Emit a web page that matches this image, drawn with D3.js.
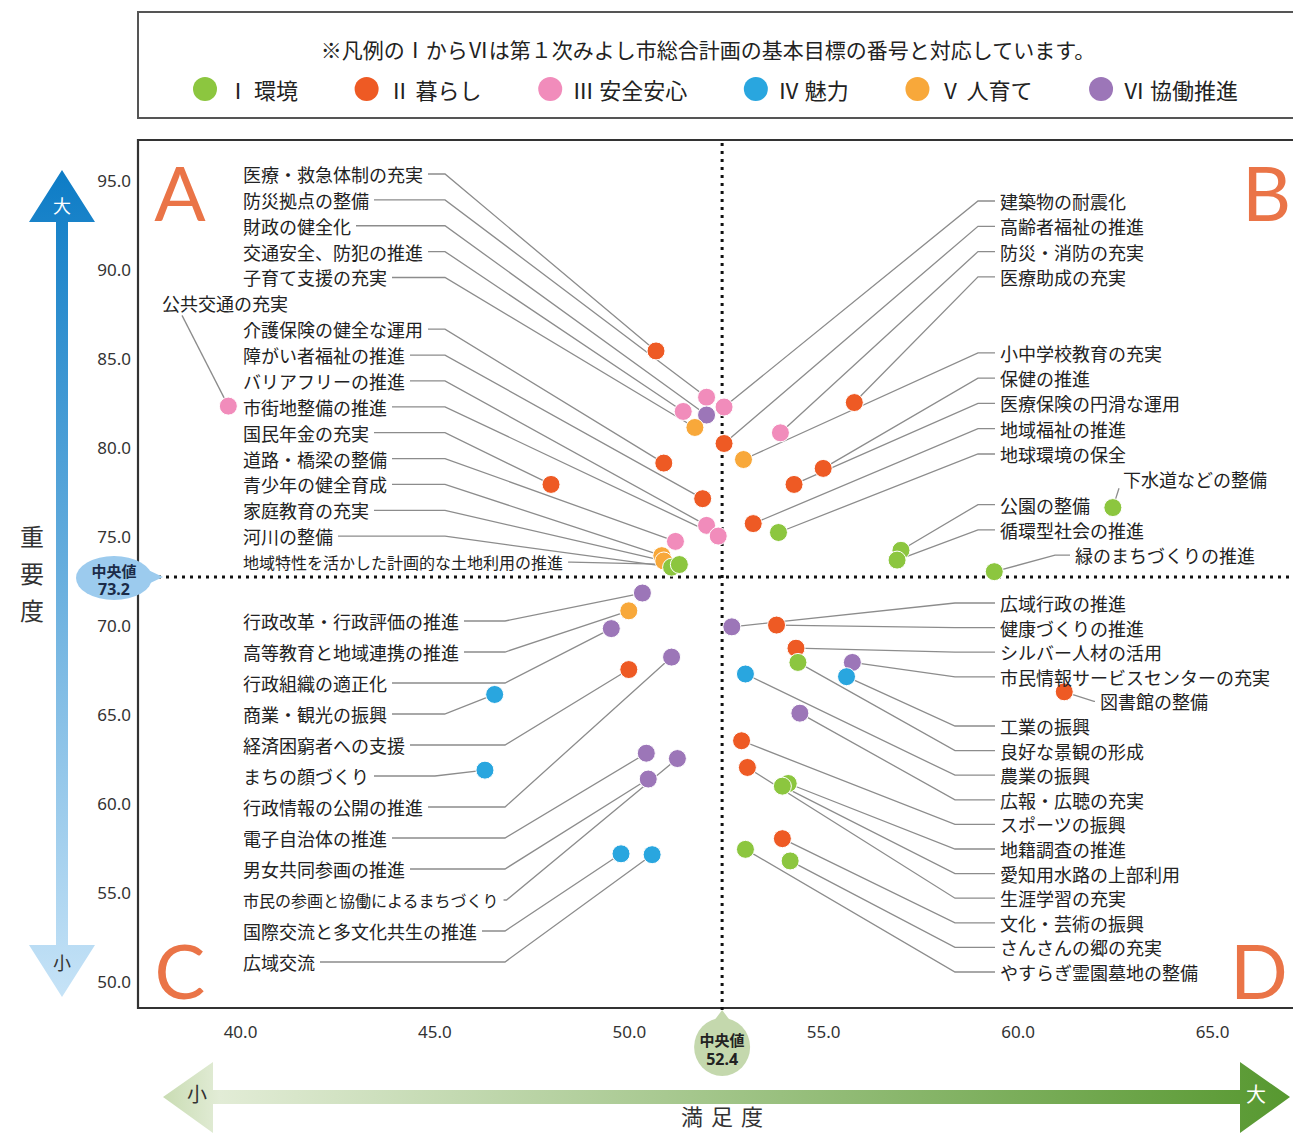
<!DOCTYPE html>
<html><head><meta charset="utf-8">
<script src="https://cdn.jsdelivr.net/npm/d3@7"></script>
<style>
body{margin:0;background:#fff;}
svg{display:block;font-family:"Noto Sans CJK JP","Noto Sans",sans-serif;}
</style></head><body>
<svg id="chart" width="1293" height="1133"></svg>
<script>
// ---------------- DATA ----------------
const legendNote = "※凡例のⅠからⅥは第１次みよし市総合計画の基本目標の番号と対応しています。";
const groupNames = ["Ⅰ 環境","Ⅱ 暮らし","Ⅲ 安全安心","Ⅳ 魅力","Ⅴ 人育て","Ⅵ 協働推進"];
const groupColors = ["#8cc63f","#ee5a24","#f18cbb","#29a6df","#f8a83a","#9c76b8"];

const itemNames = [
 // A
 "医療・救急体制の充実","防災拠点の整備","財政の健全化","交通安全、防犯の推進","子育て支援の充実","公共交通の充実",
 "介護保険の健全な運用","障がい者福祉の推進","バリアフリーの推進","市街地整備の推進","国民年金の充実","道路・橋梁の整備",
 "青少年の健全育成","家庭教育の充実","河川の整備","地域特性を活かした計画的な土地利用の推進",
 // B
 "建築物の耐震化","高齢者福祉の推進","防災・消防の充実","医療助成の充実","小中学校教育の充実","保健の推進",
 "医療保険の円滑な運用","地域福祉の推進","地球環境の保全","下水道などの整備","公園の整備","循環型社会の推進","緑のまちづくりの推進",
 // C
 "行政改革・行政評価の推進","高等教育と地域連携の推進","行政組織の適正化","商業・観光の振興","経済困窮者への支援","まちの顔づくり",
 "行政情報の公開の推進","電子自治体の推進","男女共同参画の推進","市民の参画と協働によるまちづくり","国際交流と多文化共生の推進","広域交流",
 // D
 "広域行政の推進","健康づくりの推進","シルバー人材の活用","市民情報サービスセンターの充実","図書館の整備","工業の振興",
 "良好な景観の形成","農業の振興","広報・広聴の充実","スポーツの振興","地籍調査の推進","愛知用水路の上部利用",
 "生涯学習の充実","文化・芸術の振興","さんさんの郷の充実","やすらぎ霊園墓地の整備"
];
const itemGroup = [
 1,2,5,2,4,2, 1,1,2,2,1,2, 4,4,0,0,
 2,1,2,1,4,1, 1,1,0,0,0,0,0,
 5,4,5,3,1,3, 5,5,5,5,3,3,
 5,1,1,5,1,3, 0,3,5,1,0,0, 1,1,0,0
];
const satisfaction = [
 50.7,52.0,52.0,51.4,51.7,39.7, 50.9,51.9,52.0,52.3,48.0,51.2, 50.85,50.9,51.1,51.3,
 52.45,52.45,53.9,55.8,52.95,55.0, 54.25,53.2,53.85,62.45,57.0,56.9,59.4,
 50.35,50.0,49.55,46.55,50.0,46.3, 51.1,50.45,50.5,51.25,49.8,50.6,
 52.65,53.8,54.3,55.75,61.2,55.6, 54.35,53.0,54.4,52.9,54.1,53.95, 53.05,53.95,54.15,53.0
];
const importance = [
 85.9,83.3,82.3,82.5,81.6,82.8, 79.6,77.6,76.1,75.5,78.4,75.2, 74.4,74.1,73.75,73.9,
 82.75,80.7,81.3,83.0,79.8,79.3, 78.4,76.2,75.7,77.1,74.7,74.15,73.5,
 72.3,71.3,70.3,66.6,68.0,62.35, 68.7,63.3,61.85,63.0,57.65,57.6,
 70.4,70.5,69.2,68.4,66.75,67.6, 68.4,67.75,65.55,64.0,61.6,61.45, 62.5,58.5,57.25,57.9
];
const medianSatisfaction = 52.4;
const medianImportance = 73.2;
const xTicks = [40,45,50,55,60,65];
const yTicks = [50,55,60,65,70,75,80,85,90,95];
const quadrantLetters = ["A","B","C","D"];

// ---------------- LAYOUT (label columns) ----------------
const layoutColumns = [
 {side:"left", x:243, y0:174, step:25.87, elbow:445, rows:itemNames.slice(0,16)},
 {side:"right", x:1000, y0:201, step:25.3, elbow:22, rows:[
   "建築物の耐震化","高齢者福祉の推進","防災・消防の充実","医療助成の充実",null,null,
   "小中学校教育の充実","保健の推進","医療保険の円滑な運用","地域福祉の推進","地球環境の保全",
   "下水道などの整備","公園の整備","循環型社会の推進","緑のまちづくりの推進"]},
 {side:"left", x:243, y0:621, step:31, elbow:505, rows:itemNames.slice(29,41)},
 {side:"right", x:1000, y0:603, step:24.6, elbow:45, rows:itemNames.slice(41)}
];
const labelOverrides = {
 "公共交通の充実": {x:162, leader:"under"},
 "下水道などの整備": {x:1123, leader:"corner"},
 "緑のまちづくりの推進": {x:1075, elbow:20},
 "図書館の整備": {x:1100, elbow:6}
};

// ---------------- DRAW ----------------
const svg = d3.select("#chart");
const x = d3.scaleLinear().domain([40,65]).range([240,1212]);
const y = d3.scaleLinear().domain([50,95]).range([989.96,188.96]);
const mx = x(medianSatisfaction), my = y(medianImportance);

const defs = svg.append("defs");
const gv = defs.append("linearGradient").attr("id","gv").attr("gradientUnits","userSpaceOnUse")
  .attr("x1",0).attr("y1",170).attr("x2",0).attr("y2",997);
gv.append("stop").attr("offset",0).attr("stop-color","#0d7cc6");
gv.append("stop").attr("offset",1).attr("stop-color","#c6e3f7");
const gh = defs.append("linearGradient").attr("id","gh").attr("gradientUnits","userSpaceOnUse")
  .attr("x1",163).attr("y1",0).attr("x2",1290).attr("y2",0);
gh.append("stop").attr("offset",0).attr("stop-color","#c9dcb3");
gh.append("stop").attr("offset",0.05).attr("stop-color","#e2ecd6");
gh.append("stop").attr("offset",1).attr("stop-color","#579830");

// legend box
svg.append("rect").attr("x",138).attr("y",12).attr("width",1170).attr("height",106)
  .attr("fill","none").attr("stroke","#555").attr("stroke-width",2);
svg.append("text").attr("x",708).attr("y",49).attr("text-anchor","middle").attr("dominant-baseline","central")
  .attr("font-size",21).attr("fill","#222").text(legendNote);
const lg = svg.append("g");
const li = lg.selectAll("g").data(groupNames).join("g");
li.append("circle").attr("cx",0).attr("cy",89).attr("r",12).attr("fill",(d,i)=>groupColors[i]);
li.append("text").attr("x",22).attr("y",89).attr("dominant-baseline","central")
  .attr("font-size",22).attr("fill","#222").text(d=>d);
const lw=[]; li.each(function(){ lw.push(22+this.querySelector("text").getComputedTextLength()); });
const lstart = 205, lend = 1238;
const lgap = (lend - lstart - d3.sum(lw)) / (groupNames.length-1);
let lp = lstart;
li.attr("transform",(d,i)=>{ const t=`translate(${lp},0)`; lp += lw[i] + lgap; return t; });

// plot frame
svg.append("path").attr("d","M1310,140 L138,140 L138,1008 L1310,1008")
  .attr("fill","none").attr("stroke","#333").attr("stroke-width",2.2);

// quadrant letters
const ql = [[180,221,"middle"],[1242,221,"start"],[180,999,"middle"],[1230,999,"start"]];
svg.selectAll("text.ql").data(quadrantLetters).join("text").attr("class","ql")
  .attr("x",(d,i)=>ql[i][0]).attr("y",(d,i)=>ql[i][1]).attr("text-anchor",(d,i)=>ql[i][2])
  .attr("font-family","Lato,'Open Sans',sans-serif").attr("font-size",76).attr("fill","#ea7447").text(d=>d);

// median dotted lines
svg.append("line").attr("x1",mx).attr("x2",mx).attr("y1",143).attr("y2",1018)
  .attr("stroke","#111").attr("stroke-width",3).attr("stroke-dasharray","3,5");
svg.append("line").attr("x1",158).attr("x2",1293).attr("y1",my).attr("y2",my)
  .attr("stroke","#111").attr("stroke-width",3).attr("stroke-dasharray","3,5");

// axes
const ya = svg.append("g").attr("transform","translate(131,-8)")
  .call(d3.axisLeft(y).tickValues(yTicks).tickSize(0).tickPadding(0).tickFormat(d3.format(".1f")));
ya.select(".domain").remove();
ya.selectAll("text").attr("font-family","'Noto Sans',sans-serif").attr("font-size",17).attr("fill","#333");
const xa = svg.append("g").attr("transform","translate(0,1018)")
  .call(d3.axisBottom(x).tickValues(xTicks).tickSize(0).tickPadding(8).tickFormat(d3.format(".1f")));
xa.select(".domain").remove();
xa.selectAll("text").attr("font-family","'Noto Sans',sans-serif").attr("font-size",17).attr("fill","#333");

// vertical arrow
svg.append("path").attr("d","M62,170 L95,222 L68,222 L68,945 L95,945 L62,997 L29,945 L56,945 L56,222 L29,222 Z")
  .attr("fill","url(#gv)");
svg.append("text").attr("x",62).attr("y",205).attr("text-anchor","middle").attr("dominant-baseline","central")
  .attr("font-size",18).attr("fill","#fff").text("大");
svg.append("text").attr("x",62).attr("y",962).attr("text-anchor","middle").attr("dominant-baseline","central")
  .attr("font-size",18).attr("fill","#333").text("小");
const yt = svg.append("text").attr("font-size",24).attr("fill","#333").attr("text-anchor","middle");
["重","要","度"].forEach((c,i)=>yt.append("tspan").attr("x",32).attr("y",546+i*37).text(c));

// horizontal arrow
svg.append("path").attr("d","M163,1097 L213,1062 L213,1090 L1240,1090 L1240,1062 L1290,1097 L1240,1133 L1240,1104 L213,1104 L213,1133 Z")
  .attr("fill","url(#gh)");
svg.append("text").attr("x",197).attr("y",1093).attr("text-anchor","middle").attr("dominant-baseline","central")
  .attr("font-size",20).attr("fill","#333").text("小");
svg.append("text").attr("x",1256).attr("y",1093).attr("text-anchor","middle").attr("dominant-baseline","central")
  .attr("font-size",20).attr("fill","#fff").text("大");
svg.append("text").attr("x",726).attr("y",1115).attr("text-anchor","middle").attr("dominant-baseline","central")
  .attr("font-size",22).attr("letter-spacing",8).attr("fill","#333").text("満足度");

// median bubbles
svg.append("path").attr("d",`M146,${my-8} L163,${my} L146,${my+8} Z`).attr("fill","#9ccbee");
svg.append("ellipse").attr("cx",114).attr("cy",my+1).attr("rx",38).attr("ry",22).attr("fill","#9ccbee");
svg.append("text").attr("x",114).attr("y",my-7).attr("text-anchor","middle").attr("dominant-baseline","central")
  .attr("font-size",15).attr("font-weight","bold").attr("fill","#1b2b48").text("中央値");
svg.append("text").attr("x",114).attr("y",my+12).attr("text-anchor","middle").attr("dominant-baseline","central")
  .attr("font-family","'Noto Sans',sans-serif").attr("font-size",16).attr("font-weight","bold").attr("fill","#1b2b48").text(medianImportance.toFixed(1));
svg.append("path").attr("d",`M${mx-9},1022 L${mx},1010 L${mx+9},1022 Z`).attr("fill","#c4d8ad");
svg.append("ellipse").attr("cx",mx).attr("cy",1047).attr("rx",28).attr("ry",29).attr("fill","#c4d8ad");
svg.append("text").attr("x",mx).attr("y",1039).attr("text-anchor","middle").attr("dominant-baseline","central")
  .attr("font-size",15).attr("font-weight","bold").attr("fill","#222").text("中央値");
svg.append("text").attr("x",mx).attr("y",1059).attr("text-anchor","middle").attr("dominant-baseline","central")
  .attr("font-family","'Noto Sans',sans-serif").attr("font-size",16).attr("font-weight","bold").attr("fill","#222").text(medianSatisfaction.toFixed(1));

// items
const data = itemNames.map((n,i)=>({name:n, g:itemGroup[i], sx:satisfaction[i], im:importance[i]}));
const byName = new Map(data.map(d=>[d.name,d]));
const leaderG = svg.append("g");
const dotG = svg.append("g");
const labelG = svg.append("g");

layoutColumns.forEach(col=>{
  col.rows.forEach((name,r)=>{
    if(!name) return;
    const d = byName.get(name);
    const ov = labelOverrides[name] || {};
    const ly = col.y0 + r*col.step;
    const lx = ov.x !== undefined ? ov.x : col.x;
    const t = labelG.append("text").attr("x",lx).attr("y",ly).attr("dominant-baseline","central")
      .attr("font-size", name.length>=16 ? 16 : 18).attr("fill","#222").text(name);
    const tw = t.node().getComputedTextLength();
    const px = x(d.sx), py = y(d.im);
    let pts;
    if(ov.leader==="under"){
      pts = [[lx+20, ly+12],[px,py]];
    } else if(ov.leader==="corner"){
      pts = [[lx-4, ly+9],[px,py]];
    } else if(col.side==="left"){
      const s = lx+tw+5;
      const e = Math.max(s+3, Math.min(col.elbow, px-50));
      pts = [[s,ly],[e,ly],[px,py]];
    } else {
      const s = lx-5;
      const e = lx - (ov.elbow!==undefined ? ov.elbow : col.elbow);
      pts = [[s,ly],[e,ly],[px,py]];
    }
    leaderG.append("path").attr("d", d3.line()(pts)).attr("fill","none")
      .attr("stroke","#8c8c8c").attr("stroke-width",1.3);
  });
});

dotG.selectAll("circle").data(data).join("circle")
  .attr("cx",d=>x(d.sx)).attr("cy",d=>y(d.im)).attr("r",9)
  .attr("fill",d=>groupColors[d.g]).attr("stroke","#fff").attr("stroke-width",1);
</script>
</body></html>
